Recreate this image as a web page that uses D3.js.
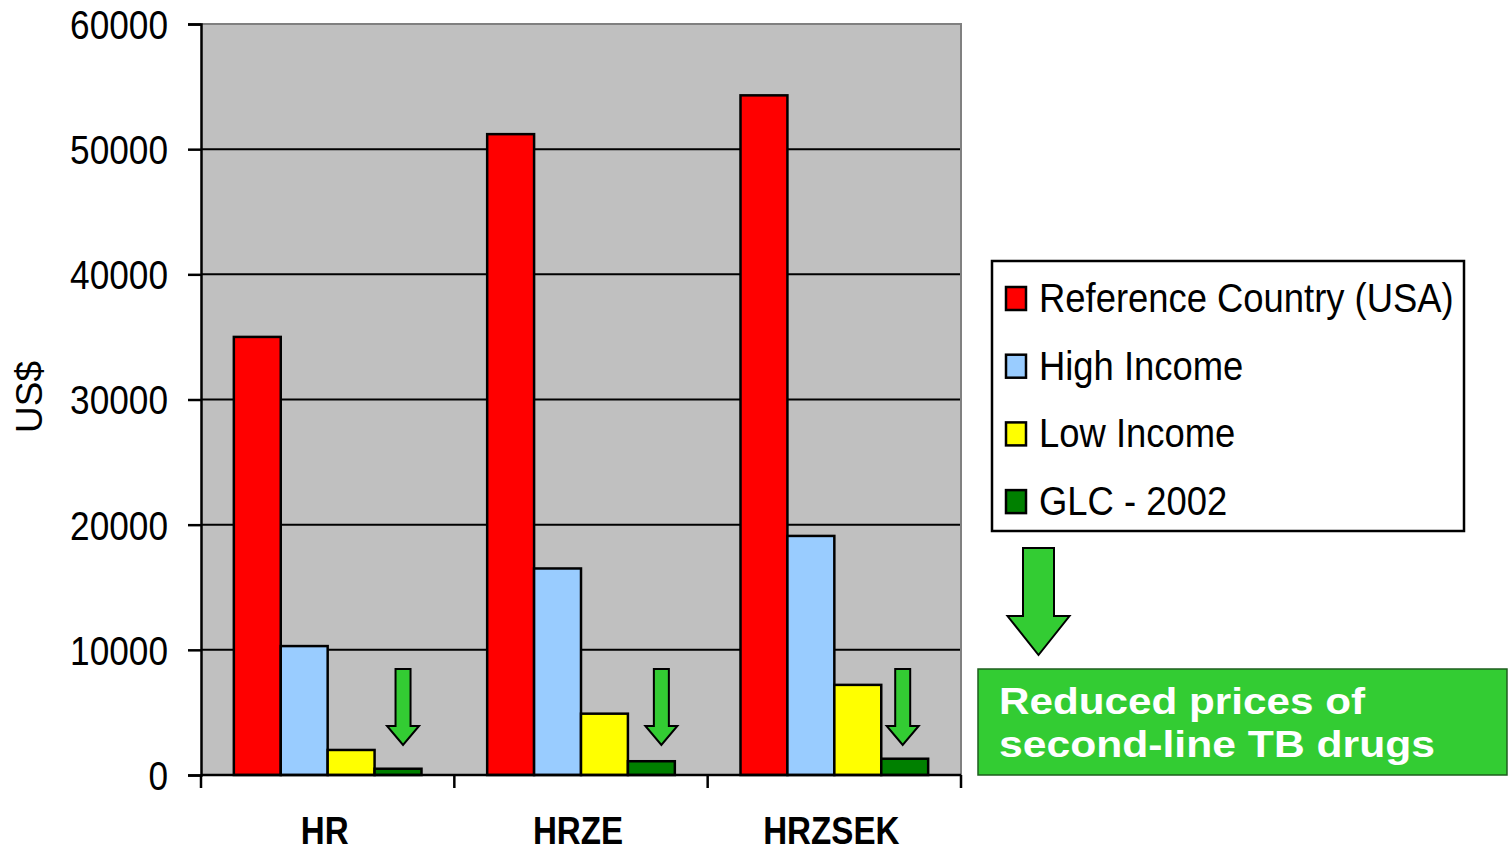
<!DOCTYPE html>
<html>
<head>
<meta charset="utf-8">
<script src="https://cdn.jsdelivr.net/npm/d3@7"></script>
<style>
  html, body { margin: 0; padding: 0; background: #fff; overflow: hidden; }
  text { font-family: "Liberation Sans", Arial, sans-serif; }
</style>
</head>
<body>
<svg id="chart" width="1509" height="853"></svg>
<script>
// ---- data ----
const categories = ["HR", "HRZE", "HRZSEK"];
const seriesNames = ["Reference Country (USA)", "High Income", "Low Income", "GLC - 2002"];
const usaValues = [35000, 51200, 54300];
const highIncomeValues = [10300, 16500, 19100];
const lowIncomeValues = [2000, 4900, 7200];
const glcValues = [500, 1100, 1300];
const seriesColors = ["#ff0000", "#99ccff", "#ffff00", "#008000"];
const yTicks = [0, 10000, 20000, 30000, 40000, 50000, 60000];
const yAxisTitle = "US$";
const calloutLines = ["Reduced prices of", "second-line TB drugs"];

const seriesValues = [usaValues, highIncomeValues, lowIncomeValues, glcValues];
const rows = categories.map((c, i) => ({
  category: c,
  values: seriesNames.map((s, j) => ({ series: s, value: seriesValues[j][i], color: seriesColors[j] }))
}));

// ---- layout ----
const plot = { left: 201, right: 961, top: 24, bottom: 775 };
const svg = d3.select("#chart");

const x0 = d3.scaleBand().domain(categories).range([plot.left, plot.right]).paddingInner(0).paddingOuter(0);
const x1 = d3.scaleBand().domain(seriesNames).range([0, x0.bandwidth()]).paddingInner(0).paddingOuter(0.7);
const y = d3.scaleLinear().domain([0, 60000]).range([plot.bottom, plot.top]);

// squeeze text horizontally to a fraction of its natural width
function squeeze(sel, factor) {
  sel.each(function () {
    const w = this.getComputedTextLength();
    d3.select(this).attr("textLength", w * factor).attr("lengthAdjust", "spacingAndGlyphs");
  });
}

// plot background
svg.append("rect")
  .attr("x", plot.left).attr("y", plot.top)
  .attr("width", plot.right - plot.left).attr("height", plot.bottom - plot.top)
  .attr("fill", "#c0c0c0");

// horizontal gridlines
svg.append("g").selectAll("line")
  .data(yTicks.filter(t => t > 0 && t < 60000))
  .join("line")
  .attr("x1", plot.left).attr("x2", plot.right)
  .attr("y1", d => y(d)).attr("y2", d => y(d))
  .attr("stroke", "#000").attr("stroke-width", 2);

// top and right frame
svg.append("path")
  .attr("d", `M${plot.left},${plot.top}H${plot.right}V${plot.bottom}`)
  .attr("fill", "none").attr("stroke", "#808080").attr("stroke-width", 2);

// bars
const groups = svg.append("g").selectAll("g")
  .data(rows).join("g")
  .attr("transform", d => `translate(${x0(d.category)},0)`);

groups.selectAll("rect")
  .data(d => d.values).join("rect")
  .attr("x", d => x1(d.series))
  .attr("width", x1.bandwidth())
  .attr("y", d => y(d.value))
  .attr("height", d => y(0) - y(d.value))
  .attr("fill", d => d.color)
  .attr("stroke", "#000").attr("stroke-width", 2.5);

// y axis
const yAxis = svg.append("g")
  .attr("transform", `translate(${plot.left},0)`)
  .call(d3.axisLeft(y).tickValues(yTicks).tickSize(13).tickPadding(20).tickFormat(d3.format("d")));
yAxis.select(".domain").attr("stroke", "#000").attr("stroke-width", 2.5);
yAxis.selectAll(".tick line").attr("stroke", "#000").attr("stroke-width", 2.5);
yAxis.selectAll(".tick text")
  .attr("font-size", 40).attr("fill", "#000")
  .attr("font-family", "'Liberation Sans', Arial, sans-serif")
  .attr("dy", "0.36em")
  .call(squeeze, 0.88);

// x axis: baseline and boundary ticks
svg.append("line")
  .attr("x1", plot.left).attr("x2", plot.right)
  .attr("y1", y(0)).attr("y2", y(0))
  .attr("stroke", "#000").attr("stroke-width", 2.5);
const boundaries = categories.map(c => x0(c)).concat([plot.right]);
svg.append("g").selectAll("line")
  .data(boundaries).join("line")
  .attr("x1", d => d).attr("x2", d => d)
  .attr("y1", y(0)).attr("y2", y(0) + 13)
  .attr("stroke", "#000").attr("stroke-width", 2.5);

svg.append("g").selectAll("text")
  .data(categories).join("text")
  .attr("x", d => x0(d) + x0.bandwidth() / 2 - 3)
  .attr("y", 844)
  .attr("text-anchor", "middle")
  .attr("font-size", 39).attr("font-weight", "bold")
  .text(d => d)
  .call(squeeze, 0.85);

// y axis title
svg.append("text")
  .attr("transform", "translate(42,397) rotate(-90)")
  .attr("text-anchor", "middle")
  .attr("font-size", 37)
  .text(yAxisTitle);

// down arrows above the GLC bars
function arrowPath(cx, top, headTop, tip, shaftHalf, headHalf) {
  return `M${cx - shaftHalf},${top}H${cx + shaftHalf}V${headTop}H${cx + headHalf}` +
         `L${cx},${tip}L${cx - headHalf},${headTop}H${cx - shaftHalf}Z`;
}
const glcName = seriesNames[3];
const arrowNudge = [5, 10, -2];
svg.append("g").selectAll("path")
  .data(categories).join("path")
  .attr("d", (c, i) => arrowPath(x0(c) + x1(glcName) + x1.bandwidth() / 2 + arrowNudge[i], 669, 726, 745, 7.5, 16))
  .attr("fill", "#33cc33").attr("stroke", "#000").attr("stroke-width", 2);

// legend
const legend = svg.append("g");
legend.append("rect")
  .attr("x", 992).attr("y", 261).attr("width", 472).attr("height", 270)
  .attr("fill", "#fff").attr("stroke", "#000").attr("stroke-width", 2.5);
const legendItems = legend.selectAll("g.item")
  .data(seriesNames).join("g").attr("class", "item")
  .attr("transform", (d, i) => `translate(0,${298 + i * 67.7})`);
legendItems.append("rect")
  .attr("x", 1006).attr("y", -11).attr("width", 20).attr("height", 23)
  .attr("fill", (d, i) => seriesColors[i])
  .attr("stroke", "#000").attr("stroke-width", 2.5);
legendItems.append("text")
  .attr("x", 1039).attr("y", 14)
  .attr("font-size", 40)
  .text(d => d)
  .call(squeeze, 0.91);

// callout arrow and box
svg.append("path")
  .attr("d", arrowPath(1038.5, 548, 616, 655, 15.5, 31))
  .attr("fill", "#33cc33").attr("stroke", "#000").attr("stroke-width", 2);
svg.append("rect")
  .attr("x", 978).attr("y", 669).attr("width", 529).attr("height", 106)
  .attr("fill", "#33cc33").attr("stroke", "#1e5e1e").attr("stroke-width", 1.5);
const calloutWidths = [366, 436];
svg.append("g").selectAll("text")
  .data(calloutLines).join("text")
  .attr("x", 999)
  .attr("y", (d, i) => 714 + i * 43)
  .attr("font-family", "'DejaVu Sans', Verdana, sans-serif")
  .attr("font-weight", "bold")
  .attr("font-size", 37)
  .attr("fill", "#fff")
  .attr("textLength", (d, i) => calloutWidths[i])
  .attr("lengthAdjust", "spacingAndGlyphs")
  .text(d => d);
</script>
</body>
</html>
